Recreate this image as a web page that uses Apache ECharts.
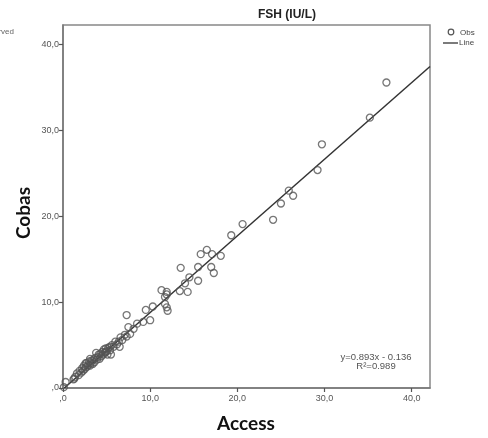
<!DOCTYPE html>
<html>
<head>
<meta charset="utf-8">
<script src="https://cdn.jsdelivr.net/npm/echarts@6/dist/echarts.min.js"></script>
<style>
  html, body { margin: 0; padding: 0; background: #ffffff; }
  #chart { width: 488px; height: 438px; }
</style>
</head>
<body>
<div id="chart"></div>
<script>
// Access (x) vs Cobas (y)
var accessVals = [
  0.1, 0.3, 1.2, 1.3, 1.4, 1.6, 1.8, 1.9, 2.1, 2.2, 2.3, 2.4, 2.5, 2.6, 2.6, 2.7, 2.8, 2.9,
  3.0, 3.1, 3.1, 3.2, 3.3, 3.4, 3.5, 3.6, 3.7, 3.8, 3.9, 4.0, 4.1, 4.2, 4.3, 4.4, 4.5, 4.6,
  4.7, 4.8, 4.9, 4.9, 5.0, 5.1, 5.2, 5.4, 5.4, 5.5, 5.6, 5.8, 6.0, 6.2, 6.4, 6.5, 6.6, 6.8,
  7.1, 7.3, 7.5, 7.7, 8.1, 8.5, 9.2, 10.0, 7.3, 9.5, 10.3, 11.7, 11.9, 12.0, 11.3, 11.9,
  11.9, 11.7, 13.4, 14.3, 14.0, 14.5, 15.5, 13.5, 15.5, 17.0, 17.3, 15.8, 16.5, 17.1, 18.1,
  19.3, 20.6, 24.1, 25.0, 25.9, 26.4, 29.2, 29.7, 35.2, 37.1
];
var cobasVals = [
  0.1, 0.7, 1.0, 1.1, 1.3, 1.7, 1.5, 2.0, 1.8, 2.3, 2.0, 2.6, 2.2, 2.4, 2.9, 2.9, 2.5, 2.7,
  3.1, 2.6, 3.4, 2.9, 3.2, 2.8, 3.3, 3.0, 3.5, 4.1, 3.3, 3.6, 3.9, 3.4, 4.0, 3.7, 4.2, 3.9,
  4.5, 4.1, 4.6, 4.2, 4.3, 3.9, 4.7, 4.4, 4.8, 3.9, 5.0, 4.8, 5.4, 5.1, 5.4, 4.8, 5.9, 5.6,
  6.2, 6.0, 7.1, 6.3, 6.9, 7.5, 7.7, 7.9, 8.5, 9.1, 9.5, 9.8, 9.4, 9.0, 11.4, 11.2,
  10.9, 10.6, 11.3, 11.2, 12.2, 12.9, 12.5, 14.0, 14.1, 14.1, 13.4, 15.6, 16.1, 15.6, 15.4,
  17.8, 19.1, 19.6, 21.5, 23.0, 22.4, 25.4, 28.4, 31.5, 35.6
];
// fitted line end points (y = 0.893x - 0.136)
var fitX = [0.15, 42.1];
var fitY = [0.0, 37.46];

var points = accessVals.map(function (x, i) { return [x, cobasVals[i]]; });
var fitLine = fitX.map(function (x, i) { return [x, fitY[i]]; });

function spssLabel(v) {
  if (v === 0) return ",0";
  return v.toFixed(1).replace(".", ",");
}

var chart = echarts.init(document.getElementById("chart"), null, { renderer: "canvas" });

var axisCommon = {
  type: "value",
  min: 0,
  interval: 10,
  axisLine: { show: true, onZero: false, lineStyle: { color: "#777", width: 1.5 } },
  axisTick: { show: true, length: 4, lineStyle: { color: "#555", width: 1.2 } },
  splitLine: { show: false },
  axisLabel: {
    formatter: spssLabel,
    color: "#555",
    fontSize: 9,
    fontFamily: "Liberation Sans",
    showMaxLabel: false
  }
};

var option = {
  animation: false,
  backgroundColor: "#ffffff",
  grid: {
    left: 63, right: 58, top: 25, bottom: 50,
    show: true, borderColor: "#888", borderWidth: 1.5, backgroundColor: "#fff"
  },
  xAxis: Object.assign({}, axisCommon, {
    max: 42.1,
    axisLabel: Object.assign({}, axisCommon.axisLabel, { margin: 6 })
  }),
  yAxis: Object.assign({}, axisCommon, {
    max: 42.3,
    axisLabel: Object.assign({}, axisCommon.axisLabel, { margin: 4 })
  }),
  series: [
    {
      name: "Obs",
      type: "scatter",
      data: points,
      symbol: "circle",
      symbolSize: 7,
      itemStyle: { color: "rgba(255,255,255,0)", borderColor: "#555", borderWidth: 1.3 }
    },
    {
      name: "Line",
      type: "line",
      data: fitLine,
      symbol: "none",
      lineStyle: { color: "#333", width: 1.5 },
      z: 1
    }
  ],
  graphic: [
    {
      type: "text", left: 258, top: 9,
      style: { text: "FSH (IU/L)", font: "bold 12px Liberation Sans", fill: "#222" }
    },
    {
      type: "text", x: 14, y: 32,
      style: { text: "Observed", font: "8px Liberation Sans", fill: "#666", align: "right", verticalAlign: "middle" }
    },
    // legend
    {
      type: "circle", shape: { cx: 451, cy: 32, r: 2.8 },
      style: { fill: "none", stroke: "#555", lineWidth: 1.2 }
    },
    {
      type: "text", x: 460, y: 33,
      style: { text: "Obs", font: "8px Liberation Sans", fill: "#444", verticalAlign: "middle" }
    },
    {
      type: "line", shape: { x1: 443, y1: 43, x2: 458, y2: 43 },
      style: { stroke: "#333", lineWidth: 1.3 }
    },
    {
      type: "text", x: 459, y: 43,
      style: { text: "Line", font: "8px Liberation Sans", fill: "#444", verticalAlign: "middle" }
    },
    {
      type: "text", x: 246, y: 424,
      style: { text: "Access", font: "bold 19px Lato", fill: "#111", align: "center", verticalAlign: "middle" }
    },
    {
      type: "text", x: 24, y: 213, rotation: Math.PI / 2,
      style: { text: "Cobas", font: "bold 19px Lato", fill: "#111", align: "center", verticalAlign: "middle" }
    },
    {
      type: "text", x: 376, y: 357,
      style: { text: "y=0.893x - 0.136", font: "9.5px Liberation Sans", fill: "#555", align: "center", verticalAlign: "middle" }
    },
    {
      type: "text", x: 376, y: 366,
      style: { text: "R²=0.989", font: "9.5px Liberation Sans", fill: "#555", align: "center", verticalAlign: "middle" }
    }
  ]
};

chart.setOption(option);
</script>
</body>
</html>
